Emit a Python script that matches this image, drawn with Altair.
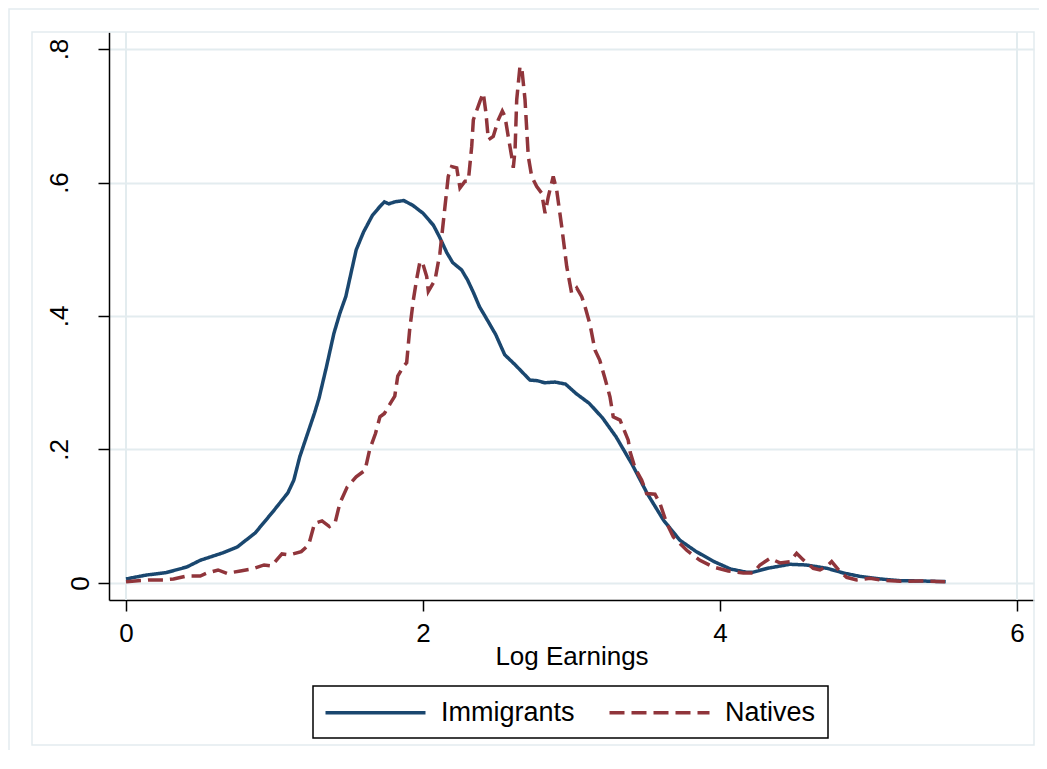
import altair as alt
import pandas as pd

# ---- data ----
imm_x = [0.00, 0.14, 0.27, 0.41, 0.50, 0.65, 0.75, 0.87, 0.99, 1.09, 1.13, 1.17,
         1.27, 1.30, 1.35, 1.40, 1.44, 1.48, 1.52, 1.55, 1.60, 1.66, 1.71, 1.74,
         1.77, 1.81, 1.87, 1.93, 2.00, 2.07, 2.11, 2.16, 2.20, 2.26, 2.30, 2.34,
         2.38, 2.42, 2.49, 2.55, 2.62, 2.72, 2.77, 2.82, 2.89, 2.96, 3.03, 3.12,
         3.21, 3.30, 3.41, 3.51, 3.62, 3.73, 3.84, 3.96, 4.07, 4.18, 4.22, 4.32,
         4.47, 4.58, 4.72, 4.83, 4.94, 5.08, 5.21, 5.35, 5.52]
imm_y = [0.006, 0.012, 0.0155, 0.024, 0.034, 0.045, 0.054, 0.075, 0.107, 0.135, 0.154, 0.189,
         0.255, 0.277, 0.324, 0.374, 0.404, 0.429, 0.469, 0.499, 0.526, 0.551, 0.564, 0.571,
         0.568, 0.571, 0.573, 0.566, 0.554, 0.536, 0.519, 0.495, 0.480, 0.469, 0.454, 0.435,
         0.414, 0.399, 0.372, 0.342, 0.327, 0.304, 0.303, 0.300, 0.301, 0.298, 0.284, 0.269,
         0.247, 0.219, 0.177, 0.134, 0.094, 0.064, 0.047, 0.032, 0.021, 0.016, 0.016, 0.022,
         0.028, 0.027, 0.022, 0.015, 0.010, 0.006, 0.0035, 0.003, 0.002]

nat_x = [0.00, 0.16, 0.25, 0.32, 0.41, 0.50, 0.54, 0.62, 0.68, 0.77, 0.85, 0.93, 0.98,
         1.05, 1.10, 1.18, 1.23, 1.27, 1.32, 1.37, 1.41, 1.44, 1.49, 1.55, 1.61, 1.64,
         1.68, 1.71, 1.74, 1.78, 1.81, 1.83, 1.87, 1.89, 1.91, 1.935, 1.958, 1.980, 1.998,
         2.025, 2.036, 2.081, 2.114, 2.148, 2.170, 2.193, 2.227, 2.249, 2.283, 2.305, 2.328,
         2.339, 2.384, 2.406, 2.424, 2.440, 2.473, 2.507, 2.534, 2.552, 2.574, 2.597, 2.608,
         2.620, 2.631, 2.653, 2.665, 2.687, 2.709, 2.732, 2.766, 2.799, 2.822, 2.844, 2.877,
         2.900, 2.934, 2.968, 3.001, 3.035, 3.069, 3.091, 3.125, 3.158, 3.19, 3.226, 3.259,
         3.281, 3.327, 3.382, 3.394, 3.428, 3.473, 3.506, 3.562, 3.596, 3.641, 3.686, 3.776,
         3.865, 3.955, 4.056, 4.157, 4.224, 4.269, 4.337, 4.404, 4.471, 4.516, 4.561, 4.628,
         4.673, 4.718, 4.752, 4.808, 4.853, 4.920, 5.010, 5.077, 5.212, 5.347, 5.515]
nat_y = [0.002, 0.0045, 0.0045, 0.006, 0.0105, 0.0105, 0.0145, 0.0195, 0.0145, 0.018, 0.021, 0.027, 0.0255,
         0.0435, 0.042, 0.047, 0.057, 0.0895, 0.093, 0.0845, 0.092, 0.1195, 0.144, 0.159, 0.169, 0.199,
         0.224, 0.249, 0.254, 0.269, 0.280, 0.310, 0.325, 0.330, 0.379, 0.424, 0.456, 0.482, 0.479,
         0.459, 0.437, 0.454, 0.494, 0.564, 0.609, 0.624, 0.622, 0.592, 0.602, 0.602, 0.654,
         0.694, 0.722, 0.734, 0.704, 0.664, 0.669, 0.694, 0.707, 0.699, 0.669, 0.639, 0.622,
         0.649, 0.724, 0.774, 0.772, 0.724, 0.639, 0.609, 0.594, 0.584, 0.554, 0.579, 0.609,
         0.589, 0.534, 0.474, 0.434, 0.442, 0.429, 0.414, 0.387, 0.349, 0.334, 0.306, 0.279,
         0.249, 0.244, 0.214, 0.197, 0.172, 0.154, 0.134, 0.133, 0.119, 0.0895, 0.069, 0.049,
         0.034, 0.024, 0.018, 0.015, 0.015, 0.027, 0.037, 0.030, 0.032, 0.0445, 0.0345, 0.022,
         0.0195, 0.0245, 0.032, 0.017, 0.0085, 0.0045, 0.007, 0.0045, 0.0025, 0.003, 0.002]

series_names = ["Immigrants", "Natives"]
series_colors = ["#1a476f", "#90353b"]
series_dashes = [[1, 0], [15, 7]]
x_ticks = [0, 2, 4, 6]
y_ticks = [0, 0.2, 0.4, 0.6, 0.8]
x_grid = [0, 6]
x_title = "Log Earnings"

df = pd.concat([
    pd.DataFrame({"series": "Immigrants", "x": imm_x, "y": imm_y, "i": range(len(imm_x))}),
    pd.DataFrame({"series": "Natives", "x": nat_x, "y": nat_y, "i": range(len(nat_x))}),
])

FONT = "Liberation Sans"
GRID = "#e3ecef"

# long horizontal stroke symbol: custom path in unit coords, scaled by sqrt(size)/2
legend = alt.Legend(
    orient="none", legendX=204, legendY=654, direction="horizontal",
    title=None, strokeColor="black", fillColor="white", padding=12,
    symbolType="M-4,0L4,0", symbolSize=625, symbolStrokeWidth=3.5, symbolOffset=36,
    labelFont=FONT, labelFontSize=27, labelColor="black", labelOffset=51,
    columnPadding=27, labelLimit=0, cornerRadius=0,
)

frame_df = pd.DataFrame({"k": [0]})
outer = alt.Chart(frame_df).mark_rect(fillOpacity=0, stroke=GRID, strokeWidth=1.5).encode(
    x=alt.value(-100), x2=alt.value(960), y=alt.value(-23), y2=alt.value(780))
inner = alt.Chart(frame_df).mark_rect(fillOpacity=0, stroke=GRID, strokeWidth=1.5).encode(
    x=alt.value(-77), x2=alt.value(925), y=alt.value(0), y2=alt.value(713))

xdom = [-0.1145, 6.1145]
ydom = [-0.0255, 0.8255]

vgrid = alt.Chart(pd.DataFrame({"gx": x_grid})).mark_rule(color=GRID, strokeWidth=2).encode(
    x=alt.X("gx:Q", scale=alt.Scale(domain=xdom))
)

lines = alt.Chart(df).mark_line(strokeWidth=3.5).encode(
    x=alt.X("x:Q", scale=alt.Scale(domain=xdom, nice=False, zero=False),
            axis=alt.Axis(values=x_ticks, format="d", grid=False, title=x_title, labelPadding=9,
                          titlePadding=-3, titleFontWeight="normal", titleFontSize=26,
                          titleFont=FONT, titleColor="black")),
    y=alt.Y("y:Q", scale=alt.Scale(domain=ydom, nice=False, zero=False),
            axis=alt.Axis(values=y_ticks, grid=True, title=None, labelAngle=270,
                          labelPadding=alt.condition("datum.value == 0", alt.value(5), alt.value(26)),
                          labelExpr="datum.value == 0 ? '0' : replace(format(datum.value, '.1f'), '0.', '.')")),
    color=alt.Color("series:N", scale=alt.Scale(domain=series_names, range=series_colors), legend=legend),
    strokeDash=alt.StrokeDash("series:N", scale=alt.Scale(domain=series_names, range=series_dashes), legend=legend),
    order="i:Q",
)

chart = alt.layer(outer, inner, vgrid, lines).properties(
    width=925, height=568,
    autosize=alt.AutoSizeParams(type="none"),
    padding={"left": 101, "top": 24, "right": 5, "bottom": 150},
    background="white",
).configure_view(strokeWidth=0).configure_axis(
    domainColor="black", domainWidth=1.5, tickColor="black", tickWidth=1.5, tickSize=11,
    labelFont=FONT, labelFontSize=26, labelColor="black", gridColor=GRID, gridWidth=2,
).configure_legend(strokeWidth=1.5)

chart.save("out.html", embed_options={"renderer": "svg", "actions": False})
